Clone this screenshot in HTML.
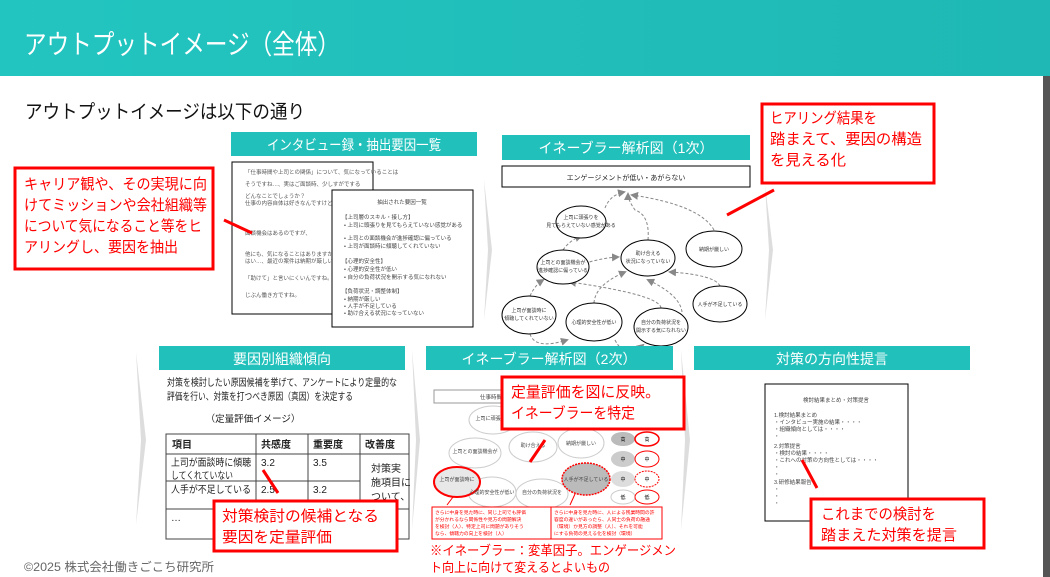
<!DOCTYPE html>
<html><head><meta charset="utf-8"><style>
body{margin:0;background:#fff;}
svg{display:block;font-family:"Liberation Sans","Noto Sans CJK JP",sans-serif;}
</style></head><body>
<svg width="1050" height="577" viewBox="0 0 1050 577" xmlns="http://www.w3.org/2000/svg">
<defs>
<linearGradient id="hg" x1="0" y1="0" x2="1" y2="0"><stop offset="0" stop-color="#23c5c0"/><stop offset="1" stop-color="#1fb8b4"/></linearGradient>
<marker id="ah" markerWidth="8" markerHeight="8" refX="6" refY="4" orient="auto"><path d="M0,0 L8,4 L0,8z" fill="#888"/></marker>
</defs>
<rect x="0" y="0" width="1050" height="76" fill="url(#hg)"/>
<text x="24" y="54" font-size="27" fill="#fff" textLength="316" lengthAdjust="spacingAndGlyphs">アウトプットイメージ（全体）</text>
<rect x="1043" y="76" width="7" height="501" fill="#555"/>
<text x="25" y="118" font-size="19" fill="#111" textLength="280" lengthAdjust="spacingAndGlyphs">アウトプットイメージは以下の通り</text>

<g fill="#ddd">
<path d="M484,180 L492,250 L484,320 L488,250z"/>
<path d="M765,185 L773,250 L765,320 L769,250z"/>
<path d="M136,352 L146,440 L136,525 L141,440z"/>
<path d="M412,350 L420,440 L412,530 L416,440z"/>
<path d="M681,350 L690,440 L681,530 L685,440z"/>
</g>

<!-- Panel 1 -->
<rect x="231" y="132" width="246" height="24" fill="#21c0bb"/>
<text x="267" y="150" font-size="14" fill="#fff" textLength="174" lengthAdjust="spacingAndGlyphs">インタビュー録・抽出要因一覧</text>
<rect x="232" y="162" width="141" height="152" fill="#fff" stroke="#000"/>
<g font-size="5.5" fill="#555">
<text x="245" y="174">「仕事時間や上司との関係」について、気になっていることは</text>
<text x="245" y="186">そうですね…、実はご面談時、少しすがでする</text>
<text x="245" y="198">どんなことでしょうか？</text>
<text x="245" y="205">仕事の内容自体は好きなんですけど、</text>
<text x="245" y="235">面談機会はあるのですが、</text>
<text x="245" y="256">他にも、気になることはありますか？</text>
<text x="245" y="263">はい…、最近の案件は納期が厳しい</text>
<text x="245" y="280">「助けて」と言いにくいんですね。</text>
<text x="245" y="297">じぶん働き方ですね。</text>
</g>
<rect x="332" y="190" width="141" height="137" fill="#fff" stroke="#000"/>
<g font-size="5.5" fill="#444">
<text x="402" y="204" text-anchor="middle">抽出された要因一覧</text>
<text x="342" y="219">【上司層のスキル・接し方】</text>
<text x="344" y="227">• 上司に頭張りを見てもらえていない感覚がある</text>
<text x="344" y="240">• 上司との面談機会が進捗確認に偏っている</text>
<text x="344" y="248">• 上司が面談時に傾聴してくれていない</text>
<text x="342" y="263">【心理的安全性】</text>
<text x="344" y="271">• 心理的安全性が低い</text>
<text x="344" y="279">• 自分の負荷状況を開示する気になれない</text>
<text x="342" y="293">【負荷状況・調整体制】</text>
<text x="344" y="301">• 納期が厳しい</text>
<text x="344" y="308">• 人手が不足している</text>
<text x="344" y="315">• 助け合える状況になっていない</text>
</g>
<rect x="15" y="168" width="198" height="101" fill="#fff" stroke="#f00" stroke-width="3"/>
<g font-size="15" fill="#f00">
<text x="24" y="189" textLength="183" lengthAdjust="spacingAndGlyphs">キャリア観や、その実現に向</text>
<text x="24" y="210" textLength="183" lengthAdjust="spacingAndGlyphs">けてミッションや会社組織等</text>
<text x="24" y="231" textLength="178" lengthAdjust="spacingAndGlyphs">について気になること等をヒ</text>
<text x="24" y="252" textLength="154" lengthAdjust="spacingAndGlyphs">アリングし、要因を抽出</text>
</g>
<line x1="224" y1="220" x2="252" y2="233" stroke="#f00" stroke-width="3"/>

<!-- Panel 2 -->
<rect x="502" y="135" width="248" height="25" fill="#21c0bb"/>
<text x="626" y="153" font-size="14" fill="#fff" text-anchor="middle">イネーブラー解析図（1次）</text>
<rect x="502" y="166" width="248" height="21" fill="#fff" stroke="#000"/>
<text x="626" y="180" font-size="7" fill="#222" text-anchor="middle">エンゲージメントが低い・あがらない</text>
<g fill="none" stroke="#888" stroke-dasharray="3,2" stroke-width="1">
<path d="M605,208 Q610,195 624,192" marker-end="url(#ah)"/>
<path d="M648,240 Q650,215 635,210 Q628,200 628,194" marker-end="url(#ah)"/>
<path d="M714,230 Q700,205 632,195" marker-end="url(#ah)"/>
<path d="M563,250 Q570,240 581,236" marker-end="url(#ah)"/>
<path d="M580,265 Q600,258 618,257" marker-end="url(#ah)"/>
<path d="M530,296 Q535,285 543,280" marker-end="url(#ah)"/>
<path d="M594,303 Q595,285 625,272" marker-end="url(#ah)"/>
<path d="M661,308 Q660,295 570,282" marker-end="url(#ah)"/>
<path d="M682,312 Q680,295 648,280" marker-end="url(#ah)"/>
<path d="M720,286 Q715,275 670,272" marker-end="url(#ah)"/>
<path d="M530,334 Q535,350 567,340" marker-end="url(#ah)"/>
<path d="M615,340 Q625,360 643,345" marker-end="url(#ah)"/>
</g>
<g fill="#fff" stroke="#000" stroke-width="1">
<ellipse cx="581" cy="222" rx="25" ry="16"/>
<ellipse cx="563" cy="267" rx="26" ry="17"/>
<ellipse cx="648" cy="258" rx="27" ry="18"/>
<ellipse cx="714" cy="249" rx="28" ry="18"/>
<ellipse cx="529" cy="315" rx="27" ry="19"/>
<ellipse cx="594" cy="322" rx="28" ry="19"/>
<ellipse cx="661" cy="327" rx="27" ry="19"/>
<ellipse cx="720" cy="304" rx="27" ry="18"/>
</g>
<g font-size="5" fill="#333" text-anchor="middle">
<text x="581" y="219">上司に頭張りを</text><text x="581" y="227">見てもらえていない感覚がある</text>
<text x="563" y="264">上司との面談機会が</text><text x="563" y="272">進捗確認に偏っている</text>
<text x="648" y="255">助け合える</text><text x="648" y="263">状況になっていない</text>
<text x="714" y="251">納期が厳しい</text>
<text x="529" y="312">上司が面談時に</text><text x="529" y="320">傾聴してくれていない</text>
<text x="594" y="324">心理的安全性が低い</text>
<text x="661" y="324">自分の負荷状況を</text><text x="661" y="332">開示する気になれない</text>
<text x="720" y="306">人手が不足している</text>
</g>
<rect x="762" y="104" width="172" height="79" fill="#fff" stroke="#f00" stroke-width="3"/>
<g font-size="15" fill="#f00">
<text x="770" y="123" textLength="107" lengthAdjust="spacingAndGlyphs">ヒアリング結果を</text>
<text x="770" y="144" textLength="152" lengthAdjust="spacingAndGlyphs">踏まえて、要因の構造</text>
<text x="770" y="165" textLength="76" lengthAdjust="spacingAndGlyphs">を見える化</text>
</g>
<line x1="774" y1="190" x2="727" y2="215" stroke="#f00" stroke-width="3"/>

<!-- Panel 4 -->
<rect x="159" y="346" width="246" height="24" fill="#21c0bb"/>
<text x="282" y="364" font-size="14" fill="#fff" text-anchor="middle">要因別組織傾向</text>
<text x="167" y="386" font-size="10" fill="#222" textLength="230" lengthAdjust="spacingAndGlyphs">対策を検討したい原因候補を挙げて、アンケートにより定量的な</text>
<text x="167" y="400" font-size="10" fill="#222" textLength="186" lengthAdjust="spacingAndGlyphs">評価を行い、対策を打つべき原因（真因）を決定する</text>
<text x="253" y="422" font-size="9.5" fill="#222" text-anchor="middle">（定量評価イメージ）</text>
<g stroke="#444" stroke-width="1" fill="none">
<rect x="166" y="434" width="243" height="105"/>
<line x1="166" y1="454" x2="409" y2="454"/>
<line x1="166" y1="481" x2="360" y2="481"/>
<line x1="166" y1="509" x2="409" y2="509"/>
<line x1="256" y1="434" x2="256" y2="539"/>
<line x1="308" y1="434" x2="308" y2="539"/>
<line x1="360" y1="434" x2="360" y2="539"/>
</g>
<g font-size="10" fill="#222">
<text x="172" y="448" font-weight="bold">項目</text>
<text x="261" y="448" font-weight="bold">共感度</text>
<text x="313" y="448" font-weight="bold">重要度</text>
<text x="365" y="448" font-weight="bold">改善度</text>
<text x="171" y="466" textLength="80" lengthAdjust="spacingAndGlyphs">上司が面談時に傾聴</text>
<text x="171" y="479" textLength="62" lengthAdjust="spacingAndGlyphs">してくれていない</text>
<text x="261" y="466">3.2</text><text x="313" y="466">3.5</text>
<text x="171" y="493" textLength="80" lengthAdjust="spacingAndGlyphs">人手が不足している</text>
<text x="261" y="493">2.5</text><text x="313" y="493">3.2</text>
<text x="371" y="472">対策実</text><text x="371" y="486">施項目に</text><text x="371" y="500">ついて、</text>
<text x="171" y="521">…</text>
</g>
<rect x="214" y="501" width="183" height="50" fill="#fff" stroke="#f00" stroke-width="3"/>
<text x="222" y="521" font-size="15" fill="#f00" textLength="157" lengthAdjust="spacingAndGlyphs">対策検討の候補となる</text>
<text x="222" y="542" font-size="15" fill="#f00" textLength="110" lengthAdjust="spacingAndGlyphs">要因を定量評価</text>
<line x1="263" y1="470" x2="278" y2="493" stroke="#f00" stroke-width="3"/>

<!-- Panel 5 -->
<rect x="426" y="346" width="247" height="24" fill="#21c0bb"/>
<text x="549" y="364" font-size="14" fill="#fff" text-anchor="middle">イネーブラー解析図（2次）</text>
<rect x="434" y="390" width="170" height="13" fill="#fff" stroke="#999"/>
<text x="480" y="399" font-size="5.5" fill="#444">仕事時間や…</text>
<g fill="#fff" stroke="#ccc">
<ellipse cx="493" cy="420" rx="24" ry="14"/>
<ellipse cx="475" cy="453" rx="26" ry="15"/>
<ellipse cx="533" cy="447" rx="24" ry="15"/>
<ellipse cx="581" cy="443" rx="23" ry="15"/>
<ellipse cx="492" cy="492" rx="24" ry="15"/>
<ellipse cx="542" cy="494" rx="26" ry="15"/>
</g>
<ellipse cx="457" cy="482" rx="23" ry="15" fill="#e8e8e8" stroke="#f00" stroke-width="2"/>
<ellipse cx="586" cy="479" rx="24" ry="16" fill="#bbb" stroke="#f00" stroke-width="1.5" stroke-dasharray="2,1"/>
<g font-size="5" fill="#444" text-anchor="middle">
<text x="493" y="420">上司に頑張りを</text>
<text x="475" y="453">上司との面談機会が</text>
<text x="533" y="447">助け合える</text>
<text x="581" y="445">納期が厳しい</text>
<text x="492" y="494">心理的安全性が低い</text>
<text x="542" y="494">自分の負荷状況を</text>
<text x="457" y="481">上司が面談時に</text>
<text x="586" y="481">人手が不足している</text>
</g>
<g font-size="5" text-anchor="middle">
<ellipse cx="623" cy="439" rx="12" ry="7" fill="#bbb"/><text x="623" y="441">高</text>
<ellipse cx="647" cy="439" rx="12" ry="7" fill="#fff" stroke="#f00" stroke-width="1.5"/><text x="647" y="441">高</text>
<ellipse cx="623" cy="459" rx="12" ry="8" fill="#ccc"/><text x="623" y="461">中</text>
<ellipse cx="647" cy="459" rx="12" ry="8" fill="#fff" stroke="#f00"/><text x="647" y="461">中</text>
<ellipse cx="623" cy="479" rx="12" ry="8" fill="#ddd"/><text x="623" y="481">中</text>
<ellipse cx="647" cy="479" rx="12" ry="8" fill="#fff" stroke="#f00" stroke-dasharray="2,1"/><text x="647" y="481">中</text>
<ellipse cx="623" cy="497" rx="12" ry="7" fill="#fff" stroke="#ccc"/><text x="623" y="499">低</text>
<ellipse cx="647" cy="497" rx="12" ry="7" fill="#fff" stroke="#f00"/><text x="647" y="499">低</text>
</g>
<rect x="432" y="507" width="124" height="32" fill="#fff" stroke="#f00"/>
<rect x="551" y="507" width="111" height="32" fill="#fff" stroke="#f00"/>
<g font-size="4.8" fill="#f00">
<text x="435" y="514">さらに中身を見た時に、同じ上司でも評価</text>
<text x="435" y="521">が分かれるなら関係性や見方の問題解決</text>
<text x="435" y="528">を検討（人）、特定上司に問題がありそう</text>
<text x="435" y="535">なら、傾聴力の向上を検討（人）</text>
<text x="554" y="514">さらに中身を見た時に、人による残業時間の許</text>
<text x="554" y="521">容度の違いがあったら、人同士の負荷の融通</text>
<text x="554" y="528">（環境）か見方の調整（人）、それを可能</text>
<text x="554" y="535">にする負荷の見える化を検討（環境）</text>
</g>
<line x1="447" y1="505" x2="453" y2="497" stroke="#f00"/>
<line x1="570" y1="505" x2="575" y2="494" stroke="#f00"/>
<rect x="502" y="377" width="182" height="52" fill="#fff" stroke="#f00" stroke-width="3"/>
<text x="511" y="397" font-size="15" fill="#f00" textLength="149" lengthAdjust="spacingAndGlyphs">定量評価を図に反映。</text>
<text x="511" y="418" font-size="15" fill="#f00" textLength="124" lengthAdjust="spacingAndGlyphs">イネーブラーを特定</text>
<line x1="545" y1="440" x2="530" y2="462" stroke="#f00" stroke-width="3"/>
<text x="430" y="555" font-size="13" fill="#f00" textLength="246" lengthAdjust="spacingAndGlyphs">※イネーブラー：変革因子。エンゲージメン</text>
<text x="430" y="572" font-size="13" fill="#f00" textLength="180" lengthAdjust="spacingAndGlyphs">ト向上に向けて変えるとよいもの</text>

<!-- Panel 6 -->
<rect x="694" y="346" width="276" height="24" fill="#21c0bb"/>
<text x="832" y="364" font-size="14" fill="#fff" text-anchor="middle">対策の方向性提言</text>
<rect x="765" y="384" width="143" height="137" fill="#fff" stroke="#000"/>
<g font-size="5.5" fill="#444">
<text x="836" y="402" text-anchor="middle">検討結果まとめ・対策提言</text>
<text x="774" y="417">1.検討結果まとめ</text>
<text x="774" y="424">・インタビュー実施の結果・・・・</text>
<text x="774" y="431">・組織傾向としては・・・・</text>
<text x="774" y="438">・</text>
<text x="774" y="448">2.対策提言</text>
<text x="774" y="455">・検討の結果・・・・</text>
<text x="774" y="462">・これへの対策の方向性としては・・・・</text>
<text x="774" y="469">・</text><text x="774" y="476">・</text>
<text x="774" y="484">3.研修結果報告</text>
<text x="774" y="491">・</text><text x="774" y="498">・</text><text x="774" y="505">・</text>
</g>
<rect x="811" y="499" width="173" height="49" fill="#fff" stroke="#f00" stroke-width="3"/>
<text x="821" y="519" font-size="15" fill="#f00" textLength="115" lengthAdjust="spacingAndGlyphs">これまでの検討を</text>
<text x="821" y="540" font-size="15" fill="#f00" textLength="136" lengthAdjust="spacingAndGlyphs">踏まえた対策を提言</text>
<line x1="802" y1="460" x2="817" y2="488" stroke="#f00" stroke-width="3"/>

<text x="24" y="571" font-size="12" fill="#666" textLength="190" lengthAdjust="spacingAndGlyphs">©2025 株式会社働きごこち研究所</text>
</svg>
</body></html>
